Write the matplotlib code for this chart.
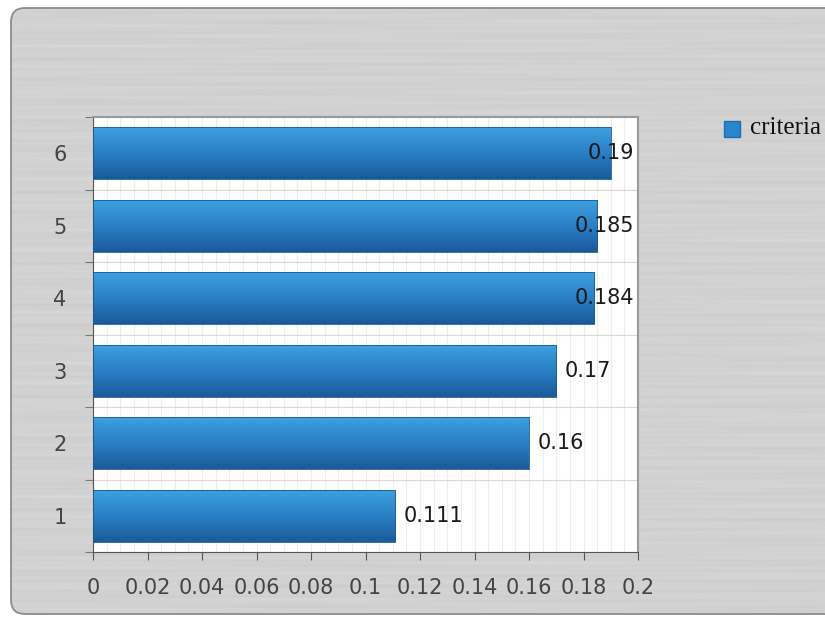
import numpy as np
import matplotlib
matplotlib.use("Agg")
import matplotlib.pyplot as plt
from matplotlib.patches import FancyBboxPatch
from matplotlib.colors import LinearSegmentedColormap

# data
categories = ["1", "2", "3", "4", "5", "6"]
values = [0.111, 0.16, 0.17, 0.184, 0.185, 0.19]
value_labels = ["0.111", "0.16", "0.17", "0.184", "0.185", "0.19"]
x_ticks = [0, 0.02, 0.04, 0.06, 0.08, 0.1, 0.12, 0.14, 0.16, 0.18, 0.2]
x_tick_labels = ["0", "0.02", "0.04", "0.06", "0.08", "0.1", "0.12", "0.14", "0.16", "0.18", "0.2"]
series_name = "criteria"

fig = plt.figure(figsize=(8.25, 6.2), dpi=100)
fig.patch.set_facecolor("white")

# brushed grey panel behind the chart
bg = fig.add_axes([0, 0, 1, 1], zorder=0)
bg.set_xlim(0, 825)
bg.set_ylim(620, 0)
bg.axis("off")
panel = FancyBboxPatch((11, 8), 830, 606, boxstyle="round,pad=0,rounding_size=14",
                       facecolor="none", edgecolor="#8c8c8c", linewidth=1.3, zorder=2)
bg.add_patch(panel)
yy = np.linspace(0, 1, 620)[:, None]
xx = np.linspace(0, 1, 200)[None, :]
streaks = (0.82
           + 0.010 * np.sin(yy * 410) * np.cos(xx * 7 + yy * 30)
           + 0.008 * np.sin(yy * 173 + 1.3) * np.sin(xx * 11 + 0.5)
           + 0.006 * np.sin(yy * 760 + 2.1))
im = bg.imshow(streaks, cmap="gray", vmin=0, vmax=1, extent=[0, 825, 620, 0], aspect="auto")
im.set_clip_path(panel)

# plot area
ax = fig.add_axes([93 / 825, 1 - 552 / 620, 545 / 825, 435 / 620], zorder=1)
ax.set_facecolor("white")

ypos = np.arange(len(categories))
bar_cmap = LinearSegmentedColormap.from_list("bar", ["#1b5a9a", "#2a80c6", "#3ea2e0"])
grad = np.linspace(0, 1, 100)[:, None]
bars = ax.barh(ypos, values, height=0.72, color="none", edgecolor="#1a5a98", linewidth=0.6, zorder=3)
for b in bars:
    x0, y0, w, h = b.get_x(), b.get_y(), b.get_width(), b.get_height()
    g = ax.imshow(grad, cmap=bar_cmap, extent=[x0, x0 + w, y0, y0 + h],
                  origin="lower", aspect="auto", zorder=2)
    g.set_clip_path(b)
ax.set_xlim(0, 0.2)
ax.set_ylim(-0.5, len(categories) - 0.5)

# value labels, pushed inside when they would run past the plot edge
for y, v, lab in zip(ypos, values, value_labels):
    if v > 0.175:
        ax.text(0.1985, y, lab, ha="right", va="center", fontsize=15, color="#1a1a1a", zorder=4)
    else:
        ax.text(v + 0.003, y, lab, ha="left", va="center", fontsize=15, color="#1a1a1a", zorder=4)

# ticks and grid
ax.set_xticks(x_ticks)
ax.set_xticklabels(x_tick_labels, fontsize=15, color="#444444")
ax.set_xticks(np.arange(0, 0.2001, 0.005), minor=True)
ax.tick_params(axis="x", which="major", length=6, direction="out", color="#555555", pad=13)
ax.tick_params(axis="x", which="minor", length=0)
ax.set_yticks(np.arange(-0.5, len(categories) - 0.4, 1))
ax.set_yticklabels([])
ax.set_yticks(ypos, minor=True)
ax.set_yticklabels(categories, minor=True, fontsize=15, color="#444444")
ax.tick_params(axis="y", which="major", length=6, direction="out", color="#777777")
ax.tick_params(axis="y", which="minor", length=0, pad=19)
ax.grid(axis="x", which="both", color="#ededed", linewidth=0.8, zorder=0)
ax.grid(axis="y", which="major", color="#d8d8d8", linewidth=0.8, zorder=0)
ax.set_axisbelow(True)
for side in ["left", "bottom"]:
    ax.spines[side].set_color("#555555")
for side in ["top", "right"]:
    ax.spines[side].set_color("#9a9a9a")
    ax.spines[side].set_linewidth(1.5)

# legend
bg.add_patch(plt.Rectangle((724, 121), 16, 16, facecolor="#2a86cc", edgecolor="#1e6fb0", zorder=3))
bg.text(750, 128, series_name, va="center", ha="left", fontsize=18,
        family="Liberation Serif", color="#111111", zorder=3)

fig.savefig("out.png", dpi=100)
